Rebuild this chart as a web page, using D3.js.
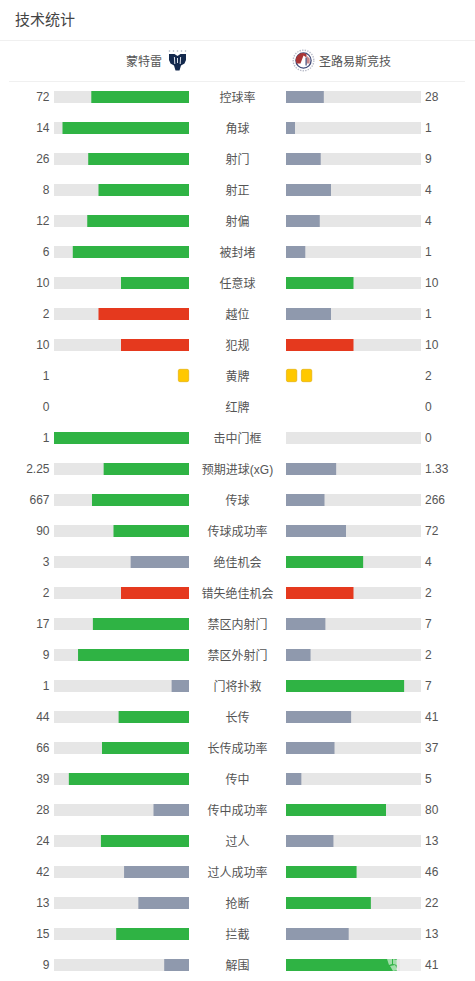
<!DOCTYPE html>
<html><head><meta charset="utf-8">
<script src="https://cdn.jsdelivr.net/npm/d3@7/dist/d3.min.js"></script>
<style>html,body{margin:0;padding:0;background:#fff}svg{display:block}text{font-family:"Liberation Sans","Noto Sans CJK SC",sans-serif}</style>
</head><body><div id="c"></div>
<script>
const title = "技术统计";
const homeTeam = "蒙特雷";
const awayTeam = "圣路易斯竞技";
const categories = ["控球率","角球","射门","射正","射偏","被封堵","任意球","越位","犯规","黄牌","红牌","击中门框","预期进球(xG)","传球","传球成功率","绝佳机会","错失绝佳机会","禁区内射门","禁区外射门","门将扑救","长传","长传成功率","传中","传中成功率","过人","过人成功率","抢断","拦截","解围"];
const homeValues = [72,14,26,8,12,6,10,2,10,1,0,1,2.25,667,90,3,2,17,9,1,44,66,39,28,24,42,13,15,9];
const awayValues = [28,1,9,4,4,1,10,1,10,2,0,0,1.33,266,72,4,2,7,2,7,41,37,5,80,13,46,22,13,41];
const negativeStats = ["越位","犯规","错失绝佳机会"];
const cardStats = ["黄牌","红牌"];

const W=475,H=981;
const svg=d3.select("#c").append("svg").attr("width",W).attr("height",H);
const y=d3.scalePoint().domain(categories).range([97,965]);
const share=d3.scaleLinear().domain([0,1]).range([0,135]);
const GREEN="#2fb344",GREY="#8f99ad",RED="#e5391e",TRACK="#e6e6e6",TXT="#555";

svg.append("text").attr("x",15).attr("y",25).attr("font-size",15).attr("fill","#444").text(title);
svg.append("line").attr("x1",0).attr("x2",W).attr("y1",40.5).attr("y2",40.5).attr("stroke","#f0f0f0");
svg.append("line").attr("x1",9).attr("x2",465).attr("y1",81.5).attr("y2",81.5).attr("stroke","#f0f0f0");
svg.append("text").attr("x",162).attr("y",65.6).attr("text-anchor","end").attr("font-size",12).attr("fill",TXT).text(homeTeam);
svg.append("text").attr("x",319).attr("y",65.6).attr("font-size",12).attr("fill",TXT).text(awayTeam);

// team crests
const h=svg.append("g").attr("transform","translate(177.5,60)");
h.append("path").attr("fill","#14294d").attr("d","M-8.5,-6 L-3,-6 L0,-4 L3,-6 L8.5,-6 L8.5,0 L7,3.5 L3.5,5.5 L2,10.5 L-2,10.5 L-3.5,5.5 L-7,3.5 L-8.5,0Z");
h.append("path").attr("fill","#d8dde6").attr("d","M-3.6,-3 L-2.6,-3 L-2.2,4 L-3.2,4Z M2.6,-3 L3.6,-3 L3.2,4 L2.2,4Z M-0.5,-2 L0.5,-2 L0.5,3 L-0.5,3Z");
h.selectAll("circle").data([-8,-4,0,4,8]).join("circle").attr("cx",d=>d).attr("cy",-9).attr("r",.8).attr("fill","#a7afbe");
const a=svg.append("g").attr("transform","translate(303.5,60.5)");
a.append("circle").attr("r",10.3).attr("fill","none").attr("stroke","#b9bcc9").attr("stroke-width",1.4).attr("stroke-dasharray","1.4 1.2");
a.append("circle").attr("r",7.6).attr("fill","#fff").attr("stroke","#3f4a78").attr("stroke-width",1.3);
a.append("path").attr("fill","#a93535").attr("d","M-6.8,3 A7,7 0 0 1 3,-6.3 L3,-3 L0,-5 L-3,3Z");
a.append("path").attr("fill","#c9888a").attr("d","M3,-5 L6.2,-2 L6.2,3 L3,3Z");
a.append("path").attr("fill","#3f4a78").attr("d","M2,-3 L3.2,-3 L3.2,5 L2,5Z");

const rows=svg.selectAll("g.row").data(categories).join("g").attr("class","row")
  .attr("transform",d=>`translate(0,${y(d)})`);
const colorFor=(name,mine,other)=>{
  if(mine<other) return GREY;
  return negativeStats.includes(name)?RED:GREEN;
};
rows.each(function(name,i){
  const g=d3.select(this),l=homeValues[i],r=awayValues[i],t=l+r;
  g.append("text").attr("x",237.5).attr("y",4.6).attr("text-anchor","middle").attr("font-size",12).attr("fill",TXT).text(name);
  g.append("text").attr("x",49.5).attr("y",4).attr("text-anchor","end").attr("font-size",12).attr("fill",TXT).text(l);
  g.append("text").attr("x",425).attr("y",4).attr("font-size",12).attr("fill",TXT).text(r);
  if(cardStats.includes(name)){
    const cards=(n,x0,dx)=>d3.range(n).forEach(k=>g.append("rect").attr("x",x0+k*dx).attr("y",-6.7).attr("width",10.4).attr("height",12.4).attr("rx",1.6).attr("fill","#ffc800").attr("stroke","#dfa800").attr("stroke-width",.6));
    if(name==="黄牌"){cards(l,178.3,-15);cards(r,286.4,15);}
    return;
  }
  g.append("rect").attr("x",54).attr("y",-6).attr("width",135).attr("height",12).attr("fill",TRACK);
  g.append("rect").attr("x",286).attr("y",-6).attr("width",135).attr("height",12).attr("fill",TRACK);
  const lw=Math.min(135,share(l/t)+0.5),rw=share(r/t);
  g.append("rect").attr("x",189-lw).attr("y",-6).attr("width",lw).attr("height",12).attr("fill",colorFor(name,l,r));
  if(r>0) g.append("rect").attr("x",286).attr("y",-6).attr("width",rw).attr("height",12).attr("fill",colorFor(name,r,l));
});

// faint watermark over the last row
const wm=svg.append("g").attr("transform",`translate(392,${y("解围")})`).attr("fill","#fff");
wm.append("path").attr("opacity",.55).attr("d","M-5,-6 L0,-6 L0,-1 L-3,0Z M1,-6 L5,-5 L5,0 L1,-1Z M-2,1 L3,0 L6,5 L1,6Z");
wm.append("rect").attr("x",8).attr("y",-6).attr("width",21).attr("height",12).attr("opacity",.3);
</script></body></html>
